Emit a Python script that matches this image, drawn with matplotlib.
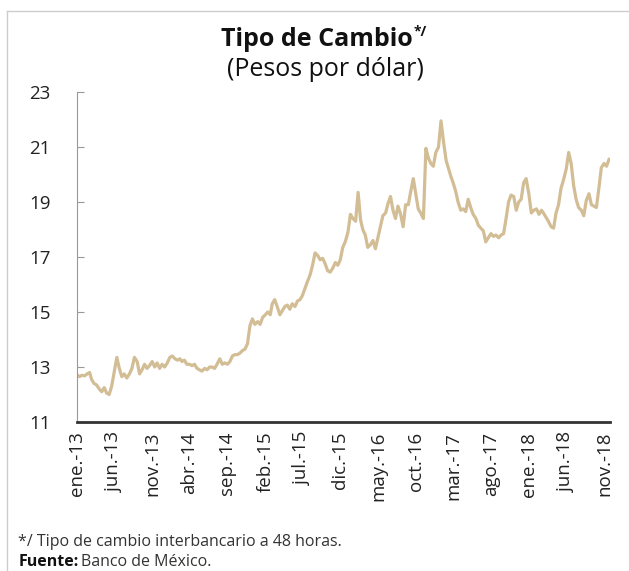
import matplotlib
matplotlib.use("Agg")
import matplotlib.pyplot as plt
import numpy as np
import pandas as pd
from matplotlib.lines import Line2D

plt.rcParams['font.family'] = ['Open Sans', 'DejaVu Sans']

# pesos per dollar (about every 10 days)
rate_2013 = [12.72, 12.65, 12.70, 12.68, 12.75, 12.80, 12.55, 12.40, 12.35,
             12.20, 12.10, 12.25, 12.05, 12.00, 12.30, 12.85, 13.35, 12.95,
             12.65, 12.75, 12.60, 12.75, 12.95, 13.35, 13.20, 12.75, 12.90,
             13.10, 12.95, 13.05, 13.20, 13.00, 13.15, 12.95, 13.10, 13.00]
rate_2014 = [13.15, 13.35, 13.40, 13.30, 13.25, 13.30, 13.20, 13.25, 13.10,
             13.10, 13.05, 13.10, 12.95, 12.90, 12.85, 12.95, 12.90, 13.00,
             13.00, 12.95, 13.10, 13.30, 13.10, 13.15, 13.10, 13.20, 13.40,
             13.45, 13.45, 13.50, 13.60, 13.65, 13.85, 14.50, 14.75, 14.55]
rate_2015 = [14.65, 14.55, 14.80, 14.90, 15.00, 14.90, 15.30, 15.45, 15.20,
             14.90, 15.05, 15.20, 15.25, 15.10, 15.30, 15.20, 15.40, 15.45,
             15.60, 15.85, 16.10, 16.35, 16.70, 17.15, 17.05, 16.90, 16.95,
             16.75, 16.50, 16.45, 16.60, 16.80, 16.70, 16.90, 17.35, 17.55]
rate_2016 = [17.90, 18.55, 18.40, 18.30, 19.35, 18.35, 18.00, 17.80, 17.35,
             17.45, 17.60, 17.30, 17.70, 18.10, 18.50, 18.60, 18.95, 19.20,
             18.70, 18.40, 18.85, 18.55, 18.10, 18.90, 18.90, 19.40, 19.85,
             19.30, 18.75, 18.60, 18.40, 20.95, 20.60, 20.40, 20.30, 20.80]
rate_2017 = [21.00, 21.95, 21.20, 20.50, 20.20, 19.90, 19.70, 19.40, 19.00,
             18.70, 18.75, 18.65, 19.10, 18.80, 18.55, 18.40, 18.15, 18.05,
             17.95, 17.55, 17.70, 17.85, 17.75, 17.80, 17.70, 17.80, 17.85,
             18.40, 19.00, 19.25, 19.20, 18.70, 19.00, 19.10, 19.70, 19.85]
rate_2018 = [19.30, 18.60, 18.70, 18.75, 18.55, 18.70, 18.60, 18.45, 18.30,
             18.10, 18.05, 18.60, 18.90, 19.50, 19.80, 20.20, 20.80, 20.40,
             19.60, 19.10, 18.80, 18.70, 18.50, 19.05, 19.30, 18.90, 18.85,
             18.80, 19.50, 20.25, 20.40, 20.30, 20.55]

tick_labels = ['ene.-13', 'jun.-13', 'nov.-13', 'abr.-14', 'sep.-14',
               'feb.-15', 'jul.-15', 'dic.-15', 'may.-16', 'oct.-16',
               'mar.-17', 'ago.-17', 'ene.-18', 'jun.-18', 'nov.-18']

months = pd.date_range('2013-01-01', '2018-11-01', freq='MS')
dates = [m + pd.Timedelta(days=d) for m in months for d in (0, 10, 20)]
rate = np.concatenate([rate_2013, rate_2014, rate_2015,
                       rate_2016, rate_2017, rate_2018])

fig = plt.figure(figsize=(6.29, 5.71), dpi=100)
ax = fig.add_axes([0.1224, 0.2609, 0.8474, 0.578])

ax.plot(dates, rate, color='#d2bd95', lw=2.3, solid_joinstyle='round')

ax.set_ylim(11, 23)
ax.set_yticks(range(11, 24, 2))
ax.set_xlim(pd.Timestamp('2013-01-01'), pd.Timestamp('2018-11-25'))
ax.set_xticks(pd.date_range('2013-01-01', '2018-11-01', freq='5MS'))
ax.set_xticklabels(tick_labels, rotation=90)

for s in ['top', 'right']:
    ax.spines[s].set_visible(False)
ax.spines['left'].set_color('#999999')
ax.spines['left'].set_linewidth(0.8)
ax.spines['bottom'].set_color('#333333')
ax.spines['bottom'].set_linewidth(2)

ax.tick_params(axis='y', direction='in', length=5, width=0.8, color='#999999',
               labelsize=13.5, pad=19, labelcolor='#222222')
ax.tick_params(axis='x', length=0, pad=7, labelsize=13.5, labelcolor='#222222')

# frame lines around the panel
fig.add_artist(Line2D([7/629, 7/629], [0, 1 - 11/571], color='#cccccc', lw=1))
fig.add_artist(Line2D([7/629, 1], [1 - 11/571, 1 - 11/571], color='#cccccc', lw=1))

# titles
t = fig.text(0.503, 0.919, 'Tipo de Cambio', ha='center', va='baseline',
             fontsize=18, fontweight='bold', color='#111111')
fig.text(0.518, 0.867, '(Pesos por dólar)', ha='center', va='baseline',
         fontsize=18, color='#111111')

fig.canvas.draw()
bb = t.get_window_extent().transformed(fig.transFigure.inverted())
fig.text(bb.x1 + 0.002, 0.937, '*/', ha='left', va='baseline',
         fontsize=10, fontweight='bold', color='#111111')

# notes
fig.text(0.029, 0.044, '*/ Tipo de cambio interbancario a 48 horas.',
         ha='left', va='baseline', fontsize=11.5, color='#333333')
f = fig.text(0.029, 0.009, 'Fuente:', ha='left', va='baseline',
             fontsize=11.5, fontweight='bold', color='#111111')
fig.canvas.draw()
fb = f.get_window_extent().transformed(fig.transFigure.inverted())
fig.text(fb.x1 + 0.004, 0.009, 'Banco de México.', ha='left', va='baseline',
         fontsize=11.5, color='#333333')

fig.savefig('out.png', dpi=100)
